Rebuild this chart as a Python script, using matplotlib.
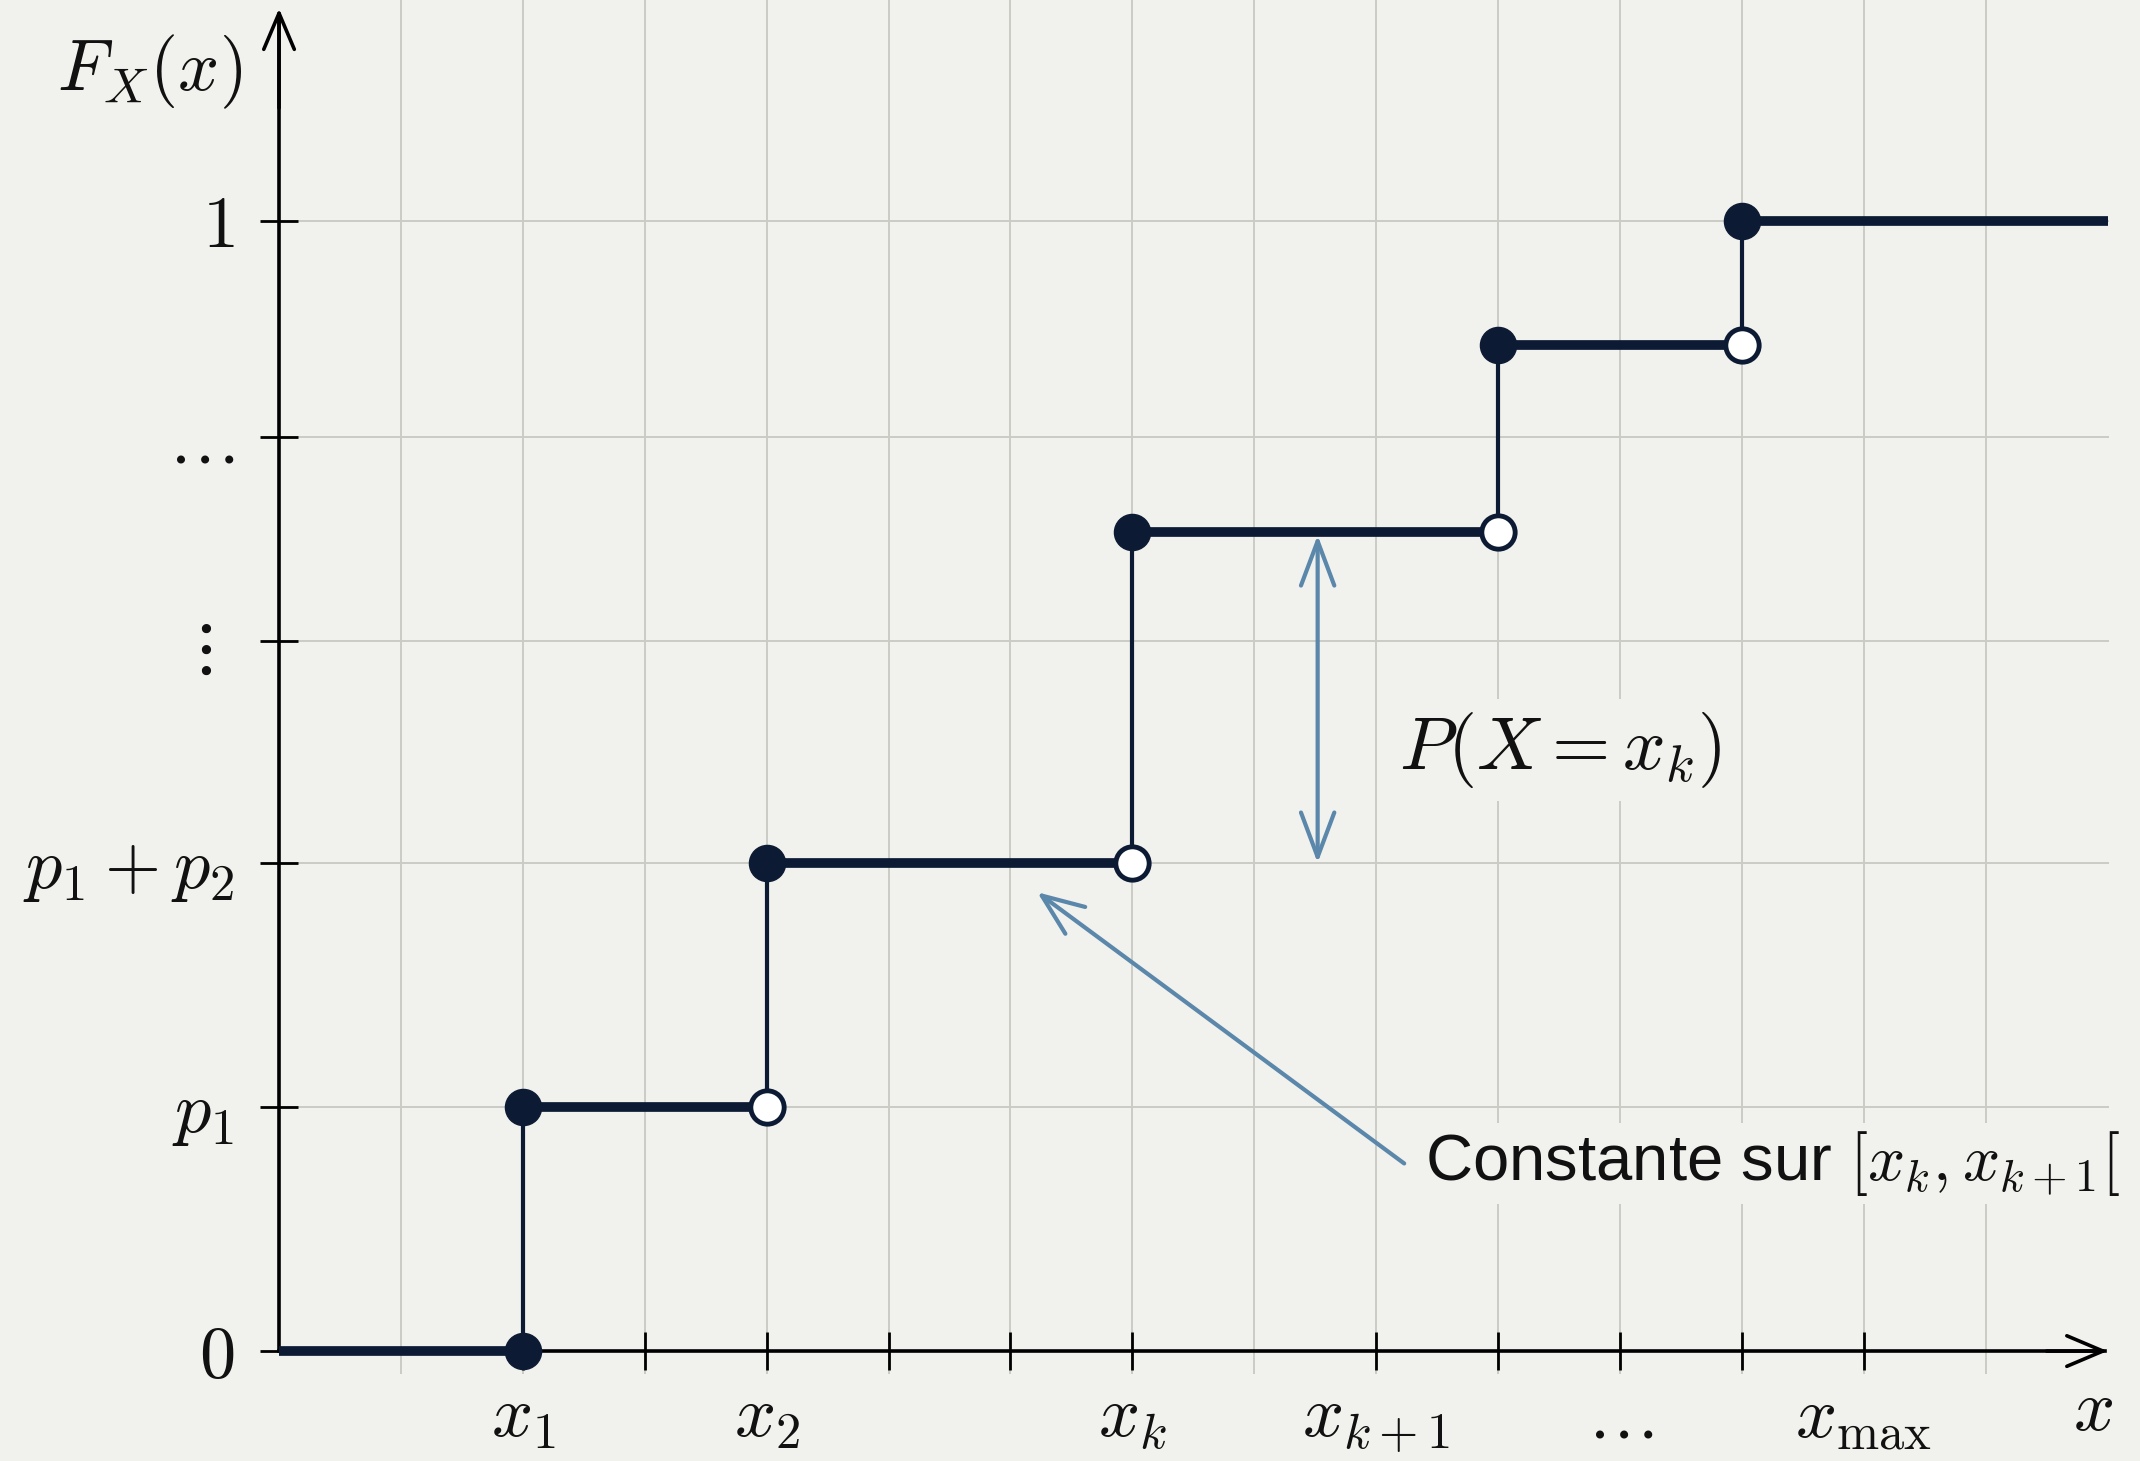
import matplotlib
matplotlib.use('Agg')
import matplotlib.pyplot as plt
import matplotlib.transforms as mtransforms
import numpy as np

plt.rcParams['mathtext.fontset'] = 'cm'
plt.rcParams['font.family'] = ['Liberation Sans', 'DejaVu Sans']

# ---------------- data ----------------
jump_x = [2, 4, 7, 10, 12]                      # jump positions
levels = [0.0, 0.216, 0.432, 0.725, 0.890, 1.0]  # F_X on each interval
x_start, x_end = 0, 15

ytick_vals = [0, 0.216, 0.432, 0.628, 0.809, 1.0]
ytick_labels = ['$0$', '$p_1$', '$p_1 + p_2$', r'$\vdots$', r'$\ldots$', '$1$']
xtick_vals = [2, 3, 4, 5, 6, 7, 9, 10, 11, 12, 13]
xtick_labels = ['$x_1$', '', '$x_2$', '', '', '$x_k$', '$x_{k+1}$', '', r'$\ldots$', '', r'$x_{\max}$']

jump_arrow_x = 8.52
jump_arrow_range = (0.432, 0.722)
const_arrow_head = (6.22, 0.406)
const_arrow_tail = (9.23, 0.166)

# ---------------- style ----------------
bg = '#f1f1ed'
navy = '#0c1a33'
blue = '#5b87ab'
gridc = '#cbcbc6'
FS = 52

fig = plt.figure(figsize=(21.4, 14.61), dpi=100, facecolor=bg)
ax = fig.add_axes([0, 0, 1, 1], facecolor=bg)
ax.set_xlim(-2.289, 15.266)
ax.set_ylim(-0.0973, 1.1956)

# grid
for gx in np.arange(1, 15):
    ax.plot([gx, gx], [-0.019, 1.25], color=gridc, lw=1.4, zorder=0)
for gy in ytick_vals[1:]:
    ax.plot([x_start, x_end], [gy, gy], color=gridc, lw=1.4, zorder=0)

# spines as axes
for s in ['top', 'right']:
    ax.spines[s].set_visible(False)
ax.spines['left'].set_position(('data', 0))
ax.spines['bottom'].set_position(('data', 0))
ax.spines['left'].set_bounds(0, 1.18)
ax.spines['bottom'].set_bounds(0, 14.98)
for s in ['left', 'bottom']:
    ax.spines[s].set_linewidth(2.6)
    ax.spines[s].set_color('black')
    ax.spines[s].set_zorder(2)

ax.annotate('', xy=(15.0, 0), xytext=(14.5, 0),
            arrowprops=dict(arrowstyle='->,head_length=26,head_width=11', mutation_scale=1,
                            color='black', lw=2.6, shrinkA=0, shrinkB=0), zorder=2)
ax.annotate('', xy=(0, 1.188), xytext=(0, 1.1),
            arrowprops=dict(arrowstyle='->,head_length=26,head_width=11', mutation_scale=1,
                            color='black', lw=2.6, shrinkA=0, shrinkB=0), zorder=2)

ax.set_xticks(xtick_vals, labels=xtick_labels)
ax.set_yticks(ytick_vals, labels=ytick_labels)
ax.tick_params(axis='both', direction='inout', length=28, width=2.0, color='black',
               labelsize=FS, labelcolor='#111111')
ax.tick_params(axis='x', pad=48)
ax.tick_params(axis='y', pad=18)
for lab in ax.get_xticklabels():
    lab.set_verticalalignment('baseline')
# shift the vertical-dots label a little to the left, as in the reference
vd = ax.get_yticklabels()[3]
vd.set_transform(vd.get_transform() + mtransforms.ScaledTranslation(-16 / 72, 0, fig.dpi_scale_trans))

# step function
xs_left = [x_start] + jump_x
xs_right = jump_x + [x_end]
for xl, xr, lv in zip(xs_left, xs_right, levels):
    ax.plot([xl, xr], [lv, lv], color=navy, lw=7, solid_capstyle='butt', zorder=4)
for xj, lo, hi in zip(jump_x, levels[:-1], levels[1:]):
    ax.plot([xj, xj], [lo, hi], color=navy, lw=3.0, zorder=3)
ax.plot(jump_x, levels[1:], 'o', ms=26, mfc=navy, mec=navy, zorder=6)
ax.plot(jump_x[:1], levels[:1], 'o', ms=26, mfc=navy, mec=navy, zorder=6)
ax.plot(jump_x[1:], levels[1:-1], 'o', ms=24, mfc='white', mec=navy, mew=3.5, zorder=6)

# labels
ax.text(-0.3, 1.132, '$F_X(x)$', ha='right', va='center', fontsize=FS, color='#111111')
ax.text(14.88, -0.070, '$x$', ha='center', va='baseline', fontsize=FS, color='#111111')

# annotation: jump size
ax.annotate('', xy=(jump_arrow_x, jump_arrow_range[1]), xytext=(jump_arrow_x, jump_arrow_range[0]),
            arrowprops=dict(arrowstyle='<->,head_length=32,head_width=12', mutation_scale=1,
                            color=blue, lw=3.0, shrinkA=0, shrinkB=0), zorder=5)
ax.text(9.19, 0.532, '$P(X = x_k)$', ha='left', va='center', fontsize=54, color='#111111',
        bbox=dict(fc=bg, ec='none', pad=8), zorder=4)

# annotation: constant part
ax.text(9.40, 0.166, r'Constante sur $[x_k, x_{k+1}[$', ha='left', va='center', fontsize=47,
        color='#111111', bbox=dict(fc=bg, ec='none', pad=4), zorder=4)
ax.annotate('', xy=const_arrow_head, xytext=const_arrow_tail,
            arrowprops=dict(arrowstyle='->,head_length=30,head_width=12', mutation_scale=1,
                            color=blue, lw=3.0, shrinkA=0, shrinkB=0), zorder=5)

fig.savefig('out.png', dpi=100, facecolor=bg)
